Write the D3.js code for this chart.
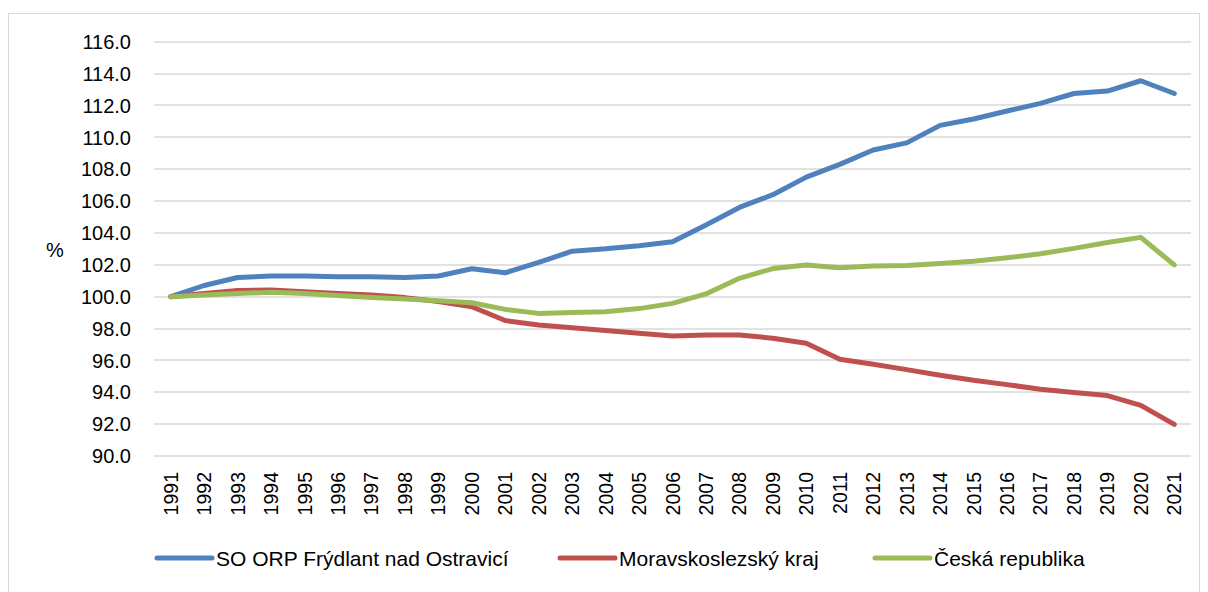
<!DOCTYPE html>
<html>
<head>
<meta charset="utf-8">
<script src="https://cdn.jsdelivr.net/npm/d3@7"></script>
<style>
  body { margin: 0; background: #fff; }
  svg { font-family: "Liberation Sans", Arial, sans-serif; }
</style>
</head>
<body>
<div id="chart"></div>
<script>
const years = d3.range(1991, 2022).map(String);

const frydlant = [100.0, 100.7, 101.2, 101.3, 101.3, 101.25, 101.25, 101.2, 101.3, 101.75,
  101.5, 102.15, 102.85, 103.0, 103.2, 103.45, 104.5, 105.6, 106.4, 107.5,
  108.3, 109.2, 109.65, 110.75, 111.15, 111.65, 112.13, 112.75, 112.9, 113.55, 112.75];

const msKraj = [100.0, 100.2, 100.38, 100.42, 100.31, 100.2, 100.1, 99.94, 99.69, 99.37,
  98.5, 98.22, 98.05, 97.87, 97.7, 97.53, 97.6, 97.6, 97.39, 97.08,
  96.07, 95.76, 95.42, 95.07, 94.75, 94.48, 94.19, 93.99, 93.79, 93.18, 91.98];

const cr = [100.0, 100.1, 100.2, 100.27, 100.2, 100.07, 99.95, 99.85, 99.75, 99.62,
  99.2, 98.95, 99.0, 99.05, 99.25, 99.58, 100.17, 101.15, 101.76, 101.99,
  101.82, 101.93, 101.95, 102.08, 102.22, 102.44, 102.69, 103.03, 103.4, 103.72, 101.99];

const seriesNames = ["SO ORP Frýdlant nad Ostravicí", "Moravskoslezský kraj", "Česká republika"];
const seriesColors = ["#4F81BD", "#C0504D", "#9BBB59"];
const yTicks = d3.range(90, 117, 2);

const W = 1208, H = 592;
const margin = { left: 154, right: 17, top: 41.7, bottom: 136 };

const svg = d3.select("#chart").append("svg")
  .attr("width", W)
  .attr("height", H);

// frame
svg.append("rect")
  .attr("x", 8.5).attr("y", 13.5)
  .attr("width", 1191).attr("height", 600)
  .attr("fill", "none")
  .attr("stroke", "#d9d9d9")
  .attr("stroke-width", 1);

const x = d3.scalePoint()
  .domain(years)
  .range([margin.left, W - margin.right])
  .padding(0.5);

const y = d3.scaleLinear()
  .domain([90, 116])
  .range([H - margin.bottom, margin.top]);

// grid
svg.append("g")
  .selectAll("line")
  .data(yTicks)
  .join("line")
  .attr("x1", margin.left)
  .attr("x2", W - margin.right)
  .attr("y1", d => Math.round(y(d)))
  .attr("y2", d => Math.round(y(d)))
  .attr("stroke", "#d9d9d9")
  .attr("stroke-width", 1.5);

// y labels
svg.append("g")
  .selectAll("text")
  .data(yTicks)
  .join("text")
  .attr("x", 131)
  .attr("y", d => y(d))
  .attr("dy", "0.36em")
  .attr("text-anchor", "end")
  .attr("font-size", 20)
  .attr("fill", "#000")
  .text(d => d.toFixed(1));

svg.append("text")
  .attr("x", 55)
  .attr("y", 250)
  .attr("dy", "0.36em")
  .attr("text-anchor", "middle")
  .attr("font-size", 20)
  .text("%");

// x labels
svg.append("g")
  .selectAll("text")
  .data(years)
  .join("text")
  .attr("transform", d => `translate(${x(d)},472) rotate(-90)`)
  .attr("dy", "0.36em")
  .attr("text-anchor", "end")
  .attr("font-size", 19.5)
  .text(d => d);

// lines
const allSeries = [frydlant, msKraj, cr];
const line = d3.line()
  .x((d, i) => x(years[i]))
  .y(d => y(d));

svg.append("g")
  .selectAll("path")
  .data(allSeries)
  .join("path")
  .attr("d", d => line(d))
  .attr("fill", "none")
  .attr("stroke", (d, i) => seriesColors[i])
  .attr("stroke-width", 5)
  .attr("stroke-linejoin", "round")
  .attr("stroke-linecap", "round");

// legend
const legendX = [157, 560, 875];
const legend = svg.append("g")
  .selectAll("g")
  .data(seriesNames)
  .join("g")
  .attr("transform", (d, i) => `translate(${legendX[i]},558)`);

legend.append("line")
  .attr("x1", 0).attr("x2", 55)
  .attr("stroke", (d, i) => seriesColors[i])
  .attr("stroke-width", 5)
  .attr("stroke-linecap", "round");

legend.append("text")
  .attr("x", 59)
  .attr("dy", "0.36em")
  .attr("font-size", 21)
  .text(d => d);
</script>
</body>
</html>
